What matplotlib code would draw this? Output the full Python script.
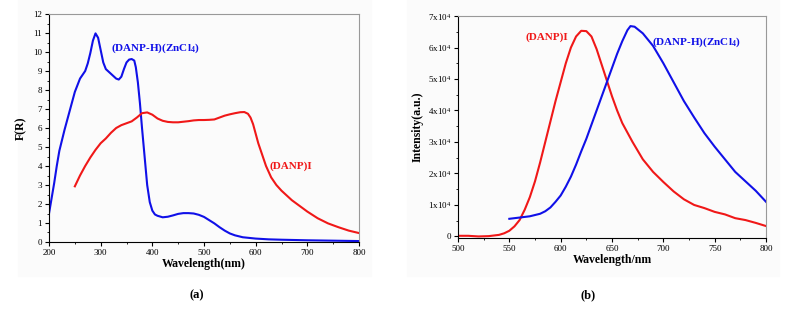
import matplotlib.pyplot as plt
from matplotlib.ticker import MultipleLocator, FuncFormatter

plt.rcParams['font.family'] = ['Liberation Serif', 'DejaVu Serif']
plt.rcParams['mathtext.fontset'] = 'custom'
plt.rcParams['mathtext.rm'] = 'Liberation Serif'
plt.rcParams['mathtext.bf'] = 'Liberation Serif:bold'
plt.rcParams['mathtext.it'] = 'Liberation Serif:italic'

# (a) F(R) spectra
wl_a_blue = [200, 205, 210, 215, 220, 230, 240, 250, 260, 270, 275, 280, 285, 290, 295, 300,
             305, 310, 320, 330, 335, 340, 345, 350, 355, 360, 365, 368, 372, 376, 380,
             385, 390, 395, 400, 405, 410, 420, 430, 440, 450, 460, 470, 480, 490, 500,
             510, 520, 530, 540, 550, 560, 575, 600, 625, 650, 700, 750, 800]
fr_a_blue = [1.5, 2.3, 3.1, 4.0, 4.8, 5.9, 6.9, 7.9, 8.6, 9.0, 9.4, 9.95, 10.6, 10.98, 10.75, 10.1,
             9.45, 9.1, 8.85, 8.6, 8.55, 8.7, 9.1, 9.45, 9.6, 9.63, 9.55, 9.2, 8.4, 7.3, 6.0,
             4.5, 3.0, 2.1, 1.65, 1.45, 1.38, 1.3, 1.33, 1.4, 1.48, 1.52, 1.52, 1.5, 1.43, 1.32,
             1.15, 0.98, 0.78, 0.6, 0.45, 0.35, 0.25, 0.18, 0.14, 0.12, 0.09, 0.07, 0.05]
wl_a_red = [250, 260, 270, 280, 290, 300, 310, 320, 330, 340, 350, 360, 370, 380, 390,
            400, 410, 420, 430, 440, 450, 460, 470, 480, 490, 500, 510, 520, 530, 540,
            550, 560, 570, 578, 585, 590, 595, 600, 605, 610, 620, 630, 640, 650, 660,
            670, 680, 700, 720, 740, 760, 780, 800]
fr_a_red = [2.93, 3.5, 4.0, 4.45, 4.85, 5.2, 5.45, 5.75, 6.0, 6.15, 6.25, 6.35, 6.55, 6.78, 6.82,
            6.7, 6.5, 6.38, 6.32, 6.3, 6.3, 6.33, 6.36, 6.4, 6.42, 6.42, 6.43, 6.45, 6.55, 6.65,
            6.72, 6.78, 6.83, 6.84, 6.75, 6.55, 6.2, 5.7, 5.2, 4.8, 4.0, 3.4, 3.0, 2.7, 2.45,
            2.2, 2.0, 1.6, 1.25, 0.98, 0.78, 0.6, 0.47]

# (b) emission spectra
wl_b_red = [500, 510, 520, 530, 540, 545, 550, 555, 560, 565, 570, 575, 580, 585, 590,
            595, 600, 605, 610, 615, 620, 625, 630, 635, 640, 645, 650, 655, 660, 670,
            680, 690, 700, 710, 720, 730, 740, 750, 760, 770, 780, 790, 800]
int_b_red = [0.02, 0.02, 0.0, 0.01, 0.05, 0.1, 0.18, 0.32, 0.52, 0.85, 1.25, 1.75, 2.35, 3.0, 3.65,
             4.3, 4.9, 5.5, 6.0, 6.35, 6.53, 6.52, 6.35, 5.95, 5.45, 4.95, 4.45, 4.0, 3.6, 3.0,
             2.45, 2.05, 1.73, 1.43, 1.18, 1.0, 0.9, 0.78, 0.7, 0.58, 0.52, 0.43, 0.33]
wl_b_blue = [550, 560, 570, 580, 585, 590, 595, 600, 605, 610, 615, 620, 625, 630, 635,
             640, 645, 650, 655, 660, 665, 668, 672, 680, 690, 700, 710, 720, 730, 740,
             750, 760, 770, 780, 790, 800]
int_b_blue = [0.56, 0.6, 0.64, 0.72, 0.8, 0.92, 1.1, 1.3, 1.58, 1.9, 2.28, 2.7, 3.1, 3.55, 4.0,
              4.45, 4.9, 5.35, 5.8, 6.2, 6.55, 6.68, 6.66, 6.45, 6.05, 5.5, 4.9, 4.3, 3.78, 3.28,
              2.85, 2.45, 2.05, 1.75, 1.45, 1.1]

BLUE = '#1010e8'
RED = '#f01818'
ZN_LABEL = '(DANP-H)(ZnCl$_{\\mathbf{4}}$)'

fig = plt.figure(figsize=(7.88, 3.14), dpi=100)
fig.patches.append(plt.Rectangle((0.023, 0.12), 0.448, 0.88, transform=fig.transFigure,
                                 color='#fbfbfb', zorder=-10))
fig.patches.append(plt.Rectangle((0.516, 0.12), 0.472, 0.88, transform=fig.transFigure,
                                 color='#fbfbfb', zorder=-10))

ax1 = fig.add_axes([0.0622, 0.2293, 0.3934, 0.7261])
ax2 = fig.add_axes([0.5812, 0.242, 0.3909, 0.707])

ax1.plot(wl_a_blue, fr_a_blue, color=BLUE, lw=1.5)
ax1.plot(wl_a_red, fr_a_red, color=RED, lw=1.5)
ax1.set_xlim(200, 800)
ax1.set_ylim(0, 12)
ax1.xaxis.set_major_locator(MultipleLocator(100))
ax1.xaxis.set_minor_locator(MultipleLocator(50))
ax1.yaxis.set_major_locator(MultipleLocator(1))
ax1.yaxis.set_minor_locator(MultipleLocator(0.5))
ax1.set_xlabel('Wavelength(nm)', fontsize=8.5, fontweight='bold', labelpad=1)
ax1.set_ylabel('F(R)', fontsize=8.5, fontweight='bold', labelpad=4)
ax1.text(111 / 788, 1 - 48 / 314, ZN_LABEL, transform=fig.transFigure,
         color=BLUE, fontsize=8, fontweight='bold', va='center')
ax1.text(269 / 788, 1 - 166 / 314, '(DANP)I', transform=fig.transFigure,
         color=RED, fontsize=8, fontweight='bold', va='center')

ax2.plot(wl_b_red, [v * 1e4 for v in int_b_red], color=RED, lw=1.5)
ax2.plot(wl_b_blue, [v * 1e4 for v in int_b_blue], color=BLUE, lw=1.5)
ax2.set_xlim(500, 800)
ax2.set_ylim(-500, 70000)
ax2.xaxis.set_major_locator(MultipleLocator(50))
ax2.xaxis.set_minor_locator(MultipleLocator(25))
ax2.yaxis.set_major_locator(MultipleLocator(10000))
ax2.yaxis.set_minor_locator(MultipleLocator(5000))
ax2.yaxis.set_major_formatter(FuncFormatter(
    lambda v, p: '0' if abs(v) < 1 else '%dx10$^{%d}$' % (round(v / 1e4), 4)))
ax2.set_xlabel('Wavelength/nm', fontsize=8.5, fontweight='bold', labelpad=1)
ax2.set_ylabel('Intensity(a.u.)', fontsize=8.5, fontweight='bold', labelpad=3)
ax2.text(526 / 788, 1 - 37 / 314, '(DANP)I', transform=fig.transFigure,
         color=RED, fontsize=8, fontweight='bold', va='center')
ax2.text(652 / 788, 1 - 42 / 314, ZN_LABEL, transform=fig.transFigure,
         color=BLUE, fontsize=8, fontweight='bold', va='center')

for ax in (ax1, ax2):
    ax.set_facecolor('none')
    for s in ax.spines.values():
        s.set_linewidth(0.8)
    ax.spines['top'].set_color('#999999')
    ax.spines['right'].set_color('#999999')
    ax.tick_params(which='major', direction='out', length=3, width=0.8, labelsize=6.5, pad=2)
    ax.tick_params(which='minor', direction='out', length=1.5, width=0.6)

fig.text(197 / 788, 1 - 295 / 314, '(a)', fontsize=9, fontweight='bold', ha='center', va='center')
fig.text(588 / 788, 1 - 295 / 314, '(b)', fontsize=9, fontweight='bold', ha='center', va='center')

fig.savefig('out.png', dpi=100)
